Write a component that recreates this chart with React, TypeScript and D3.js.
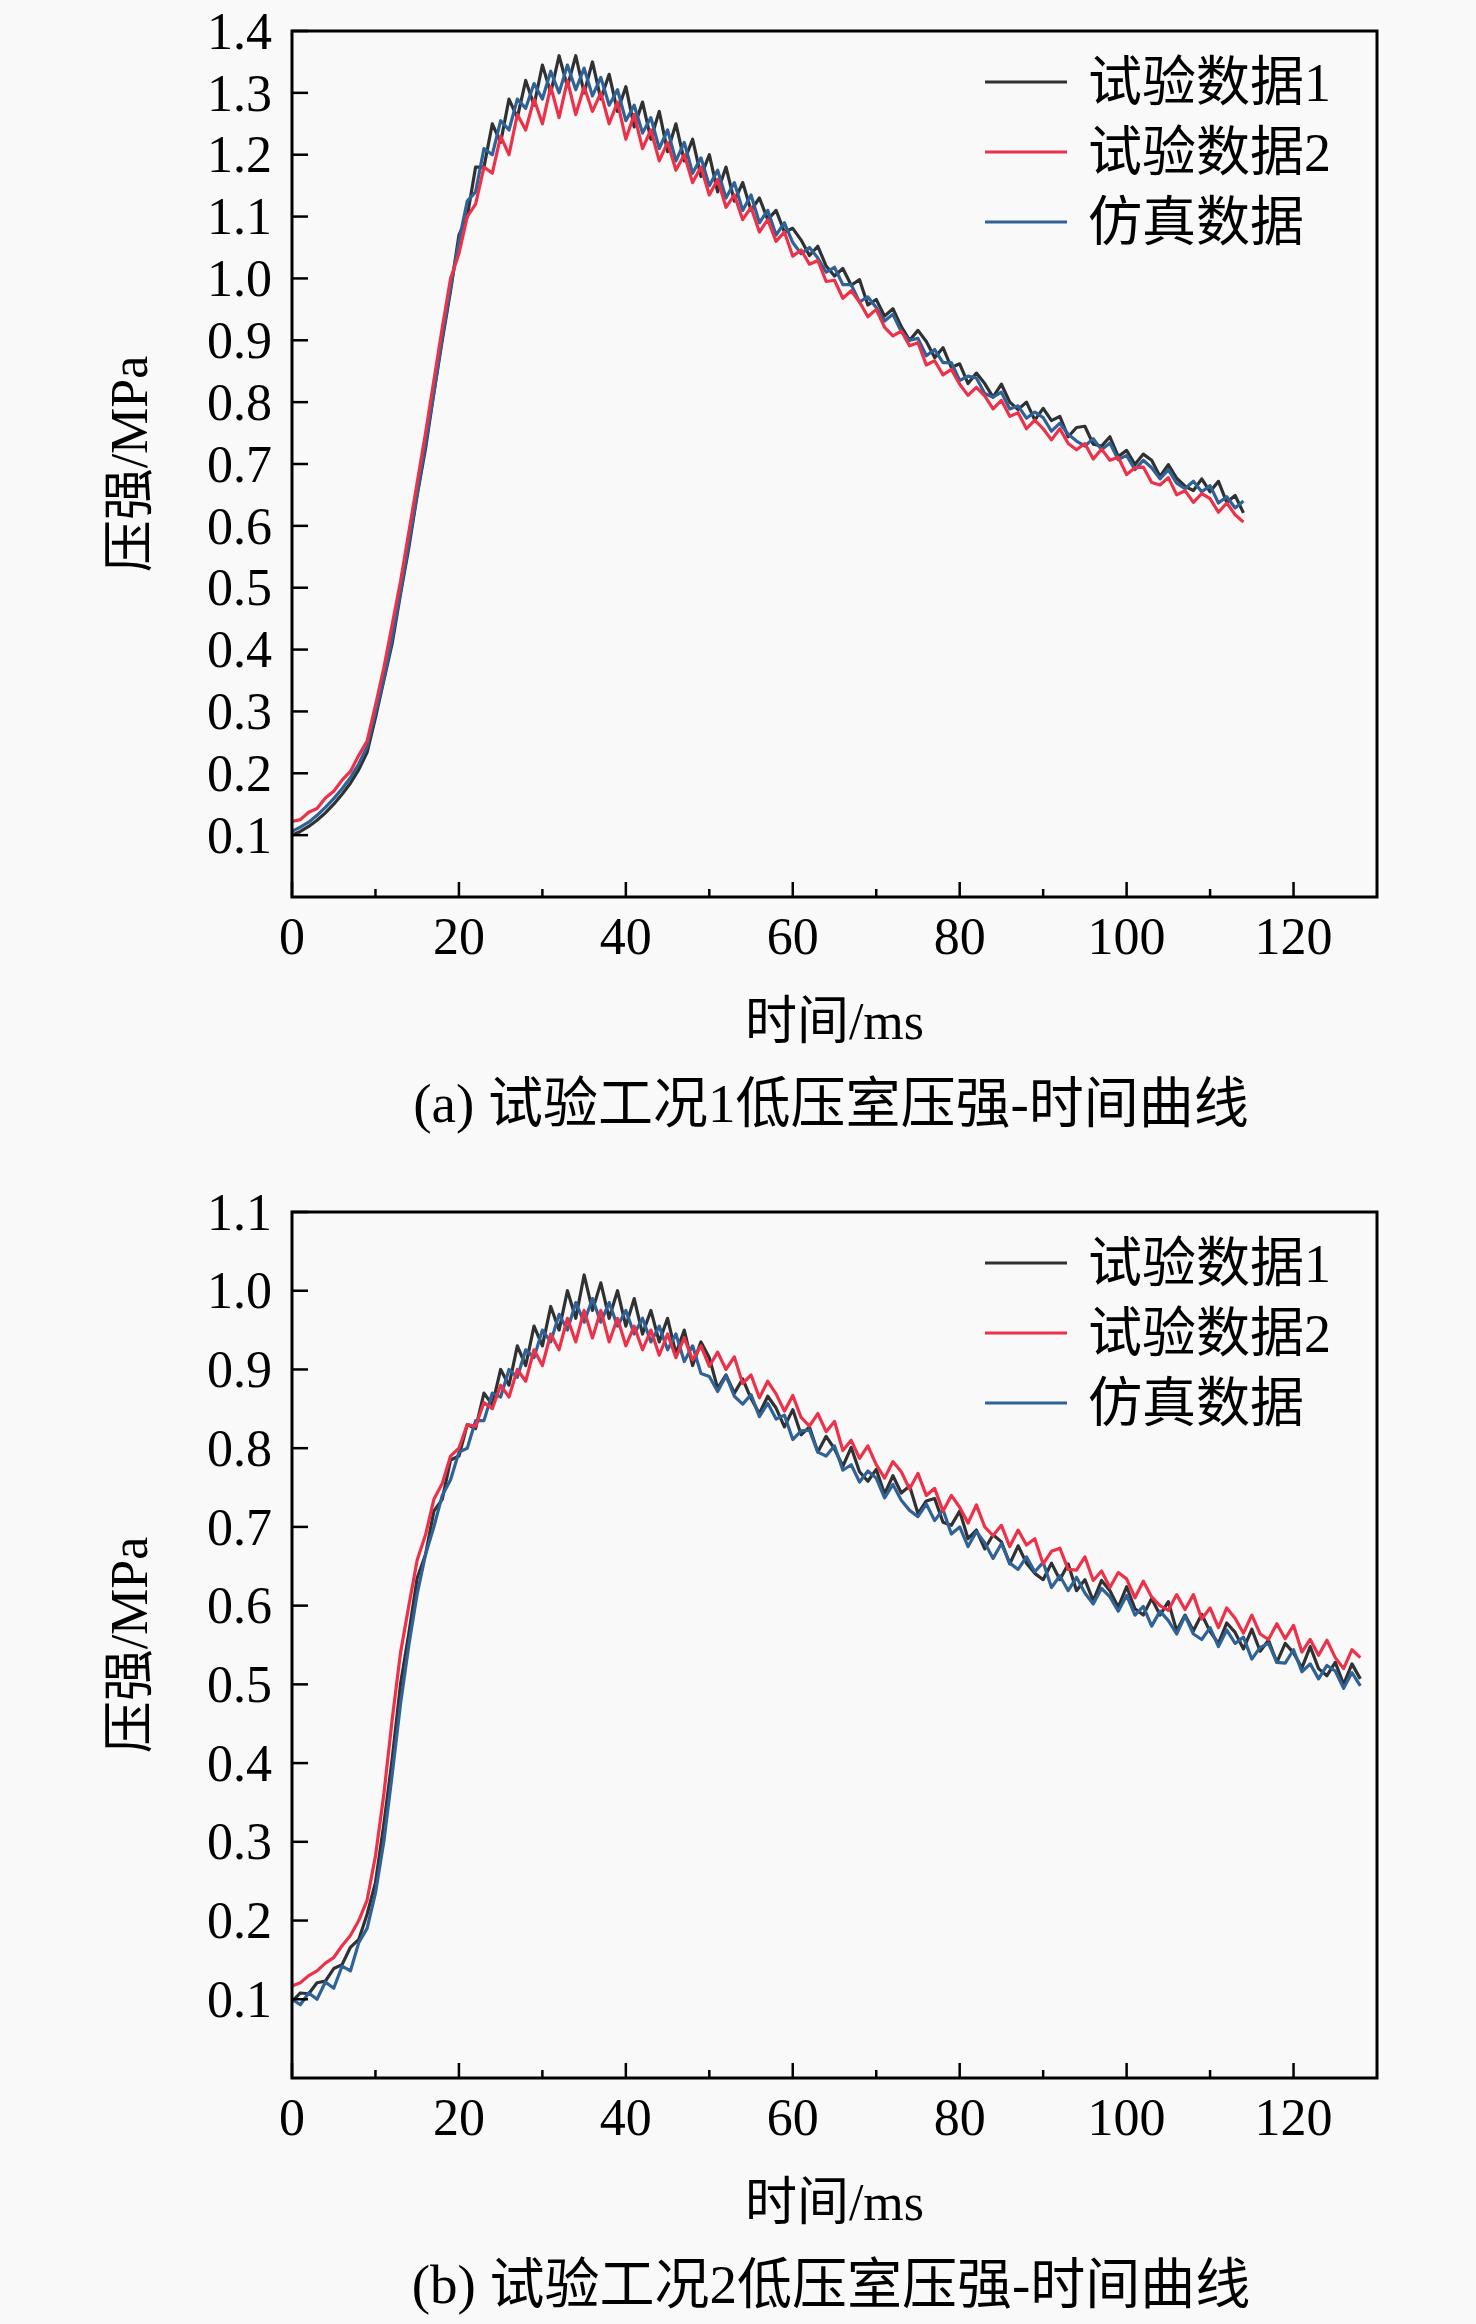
import React from 'react';
import * as d3 from 'd3';

// legend / series
const seriesNames = ['试验数据1', '试验数据2', '仿真数据'];
const seriesColors = ['#2f3133', '#ec3149', '#2f6296'];

// ticks
const xTicks = [0, 20, 40, 60, 80, 100, 120];
const xMinorTicks = [10, 30, 50, 70, 90, 110];
const yTicksA = [0.1, 0.2, 0.3, 0.4, 0.5, 0.6, 0.7, 0.8, 0.9, 1.0, 1.1, 1.2, 1.3, 1.4];
const yTicksB = [0.1, 0.2, 0.3, 0.4, 0.5, 0.6, 0.7, 0.8, 0.9, 1.0, 1.1];

// (a) 试验工况1, sampled every 1 ms
const timeA = d3.range(0, 115);
const test1A = [
  0.100, 0.106, 0.114, 0.124, 0.136, 0.150, 0.166, 0.184, 0.206, 0.234,
  0.29, 0.35, 0.41, 0.49, 0.565, 0.65, 0.725, 0.815, 0.90, 0.98,
  1.07, 1.10, 1.18, 1.18, 1.25, 1.22, 1.29, 1.26, 1.32, 1.28,
  1.345, 1.30, 1.36, 1.31, 1.36, 1.30, 1.35, 1.29, 1.33, 1.27,
  1.31, 1.245, 1.285, 1.225, 1.27, 1.205, 1.25, 1.19, 1.225, 1.165,
  1.20, 1.14, 1.18, 1.125, 1.155, 1.11, 1.13, 1.095, 1.11, 1.075,
  1.081, 1.062, 1.037, 1.052, 1.02, 1.004, 1.016, 0.989, 0.998, 0.957,
  0.966, 0.939, 0.951, 0.922, 0.90, 0.916, 0.898, 0.872, 0.888, 0.856,
  0.862, 0.83, 0.847, 0.83, 0.808, 0.829, 0.80, 0.788, 0.80, 0.771,
  0.79, 0.77, 0.777, 0.744, 0.759, 0.761, 0.732, 0.729, 0.744, 0.712,
  0.722, 0.699, 0.716, 0.706, 0.68, 0.699, 0.677, 0.664, 0.657, 0.676,
  0.655, 0.672, 0.638, 0.649, 0.621,
];
const test2A = [
  0.122, 0.125, 0.137, 0.143, 0.160, 0.171, 0.189, 0.203, 0.229, 0.252,
  0.31, 0.37, 0.44, 0.51, 0.59, 0.67, 0.75, 0.835, 0.92, 1.0,
  1.04, 1.10, 1.12, 1.18, 1.17, 1.23, 1.20, 1.265, 1.24, 1.29,
  1.25, 1.31, 1.26, 1.32, 1.265, 1.31, 1.27, 1.30, 1.25, 1.285,
  1.225, 1.265, 1.21, 1.24, 1.19, 1.22, 1.175, 1.20, 1.155, 1.18,
  1.135, 1.16, 1.115, 1.135, 1.095, 1.115, 1.075, 1.095, 1.06, 1.075,
  1.036, 1.046, 1.023, 1.029, 0.995, 0.997, 0.968, 0.98, 0.962, 0.938,
  0.95, 0.921, 0.907, 0.915, 0.891, 0.896, 0.86, 0.867, 0.844, 0.853,
  0.829, 0.811, 0.824, 0.81, 0.789, 0.803, 0.777, 0.783, 0.757, 0.771,
  0.757, 0.739, 0.757, 0.733, 0.723, 0.733, 0.708, 0.724, 0.706, 0.711,
  0.683, 0.694, 0.695, 0.67, 0.666, 0.678, 0.65, 0.657, 0.638, 0.652,
  0.644, 0.622, 0.637, 0.618, 0.606,
];
const simA = [
  0.106, 0.113, 0.121, 0.132, 0.145, 0.159, 0.175, 0.193, 0.215, 0.243,
  0.298, 0.352, 0.418, 0.493, 0.572, 0.652, 0.733, 0.815, 0.905, 0.985,
  1.06, 1.125, 1.14, 1.21, 1.20, 1.255, 1.24, 1.29, 1.275, 1.315,
  1.29, 1.335, 1.30, 1.345, 1.305, 1.34, 1.295, 1.325, 1.28, 1.305,
  1.255, 1.28, 1.235, 1.26, 1.21, 1.24, 1.19, 1.22, 1.17, 1.195,
  1.15, 1.175, 1.13, 1.155, 1.11, 1.135, 1.09, 1.11, 1.07, 1.09,
  1.058, 1.04, 1.05, 1.033, 1.01, 1.018, 0.99, 0.99, 0.962, 0.97,
  0.953, 0.931, 0.942, 0.914, 0.90, 0.903, 0.875, 0.885, 0.864, 0.864,
  0.835, 0.842, 0.839, 0.814, 0.808, 0.816, 0.789, 0.794, 0.774, 0.784,
  0.775, 0.753, 0.766, 0.748, 0.737, 0.729, 0.741, 0.723, 0.734, 0.707,
  0.714, 0.691, 0.706, 0.694, 0.676, 0.691, 0.669, 0.66, 0.672, 0.655,
  0.665, 0.637, 0.647, 0.629, 0.64,
];

// (b) 试验工况2, sampled every 1 ms
const timeB = d3.range(0, 129);
const test1B = [
  0.097, 0.108, 0.107, 0.121, 0.123, 0.139, 0.144, 0.166, 0.176, 0.208,
  0.248, 0.322, 0.405, 0.5, 0.565, 0.635, 0.665, 0.72, 0.735, 0.785,
  0.79, 0.83, 0.825, 0.87, 0.855, 0.90, 0.88, 0.93, 0.905, 0.955,
  0.93, 0.98, 0.95, 1.0, 0.965, 1.02, 0.975, 1.01, 0.965, 1.0,
  0.955, 0.99, 0.945, 0.975, 0.935, 0.965, 0.92, 0.95, 0.905, 0.935,
  0.915, 0.876, 0.893, 0.87, 0.888, 0.863, 0.844, 0.866, 0.851, 0.827,
  0.849, 0.817, 0.827, 0.795, 0.815, 0.799, 0.777, 0.801, 0.77, 0.758,
  0.773, 0.742, 0.765, 0.743, 0.752, 0.717, 0.733, 0.736, 0.706, 0.702,
  0.72, 0.685, 0.696, 0.672, 0.69, 0.681, 0.653, 0.676, 0.654, 0.641,
  0.633, 0.654, 0.633, 0.653, 0.619, 0.633, 0.606, 0.632, 0.619, 0.598,
  0.624, 0.596, 0.588, 0.609, 0.588, 0.605, 0.568, 0.588, 0.568, 0.589,
  0.567, 0.552, 0.578, 0.566, 0.545, 0.57, 0.542, 0.556, 0.528, 0.552,
  0.54, 0.521, 0.548, 0.52, 0.511, 0.528, 0.50, 0.526, 0.507,
];
const test2B = [
  0.117, 0.121, 0.13, 0.136, 0.146, 0.153, 0.168, 0.181, 0.20, 0.226,
  0.282, 0.36, 0.455, 0.54, 0.60, 0.658, 0.69, 0.735, 0.755, 0.79,
  0.80, 0.83, 0.828, 0.858, 0.85, 0.88, 0.865, 0.90, 0.885, 0.925,
  0.905, 0.945, 0.925, 0.965, 0.935, 0.975, 0.94, 0.975, 0.935, 0.965,
  0.93, 0.955, 0.925, 0.95, 0.918, 0.945, 0.915, 0.94, 0.912, 0.93,
  0.904, 0.922, 0.90, 0.916, 0.882, 0.893, 0.864, 0.885, 0.869, 0.847,
  0.867, 0.839, 0.828, 0.844, 0.821, 0.834, 0.797, 0.81, 0.787, 0.803,
  0.779, 0.762, 0.783, 0.77, 0.748, 0.768, 0.74, 0.749, 0.72, 0.74,
  0.725, 0.705, 0.728, 0.70, 0.689, 0.702, 0.675, 0.696, 0.677, 0.685,
  0.653, 0.669, 0.673, 0.646, 0.645, 0.662, 0.632, 0.644, 0.623, 0.642,
  0.634, 0.61, 0.631, 0.611, 0.60, 0.594, 0.614, 0.595, 0.614, 0.583,
  0.597, 0.572, 0.597, 0.584, 0.565, 0.588, 0.564, 0.557, 0.577, 0.558,
  0.575, 0.541, 0.557, 0.537, 0.556, 0.534, 0.52, 0.544, 0.534,
];
const simB = [
  0.10, 0.093, 0.108, 0.10, 0.122, 0.114, 0.142, 0.136, 0.172, 0.19,
  0.235, 0.30, 0.385, 0.475, 0.55, 0.615, 0.665, 0.70, 0.74, 0.76,
  0.795, 0.80, 0.835, 0.835, 0.87, 0.865, 0.90, 0.89, 0.925, 0.915,
  0.95, 0.935, 0.97, 0.95, 0.985, 0.96, 0.99, 0.96, 0.985, 0.955,
  0.975, 0.945, 0.965, 0.935, 0.955, 0.925, 0.945, 0.91, 0.93, 0.895,
  0.891, 0.872, 0.892, 0.866, 0.856, 0.868, 0.84, 0.857, 0.837, 0.842,
  0.811, 0.822, 0.823, 0.795, 0.79, 0.803, 0.772, 0.779, 0.757, 0.771,
  0.762, 0.737, 0.754, 0.734, 0.721, 0.713, 0.729, 0.708, 0.722, 0.691,
  0.70, 0.675, 0.694, 0.68, 0.66, 0.679, 0.654, 0.646, 0.662, 0.643,
  0.655, 0.623, 0.638, 0.619, 0.636, 0.616, 0.602, 0.622, 0.611, 0.593,
  0.613, 0.588, 0.599, 0.574, 0.593, 0.581, 0.564, 0.587, 0.564, 0.557,
  0.572, 0.548, 0.569, 0.552, 0.56, 0.532, 0.547, 0.552, 0.528, 0.527,
  0.544, 0.516, 0.526, 0.507, 0.524, 0.517, 0.495, 0.515, 0.498,
];

const FONT = "'Liberation Serif', 'Times New Roman', 'Noto Sans CJK SC', serif";

interface PanelProps {
  top: number;
  yMax: number;
  yTicks: number[];
  time: number[];
  series: number[][];
  caption: string;
}

const Panel: React.FC<PanelProps> = ({ top, yMax, yTicks, time, series, caption }) => {
  const left = 292;
  const right = 1377;
  const height = 866;
  const bottom = top + height;

  const x = d3.scaleLinear().domain([0, 130]).range([left, right]);
  const y = d3.scaleLinear().domain([0, yMax]).range([bottom, top]);
  const line = d3.line<number>()
    .x((_, i) => x(time[i]))
    .y(d => y(d));
  const fmt = d3.format('.1f');

  // draw order: black, blue, red on top
  const order = [0, 2, 1];

  return (
    <g fontFamily={FONT} fill="#000">
      {order.map(k => (
        <path key={k} d={line(series[k]) || ''} fill="none"
          stroke={seriesColors[k]} strokeWidth={3.2} strokeLinejoin="round" />
      ))}

      <rect x={left} y={top} width={right - left} height={height}
        fill="none" stroke="#000" strokeWidth={3} />

      {/* x ticks */}
      {xTicks.map(t => (
        <g key={t}>
          <line x1={x(t)} x2={x(t)} y1={bottom} y2={bottom - 15} stroke="#000" strokeWidth={2.5} />
          <text x={x(t)} y={bottom + 57} fontSize={52} textAnchor="middle">{t}</text>
        </g>
      ))}
      {xMinorTicks.map(t => (
        <line key={t} x1={x(t)} x2={x(t)} y1={bottom} y2={bottom - 8} stroke="#000" strokeWidth={2.5} />
      ))}

      {/* y ticks */}
      {yTicks.map(v => (
        <g key={v}>
          <line x1={left} x2={left + 16} y1={y(v)} y2={y(v)} stroke="#000" strokeWidth={2.5} />
          <text x={left - 20} y={y(v)} dy="0.34em" fontSize={52} textAnchor="end">{fmt(v)}</text>
        </g>
      ))}

      {/* axis titles */}
      <text transform={`translate(128, ${top + height / 2}) rotate(-90)`} fontSize={52}
        textAnchor="middle" dy="0.36em">压强/MPa</text>
      <text x={(left + right) / 2} y={bottom + 142} fontSize={52} textAnchor="middle">时间/ms</text>
      <text x={831} y={bottom + 225} fontSize={55} textAnchor="middle">{caption}</text>

      {/* legend */}
      {seriesNames.map((name, i) => (
        <g key={name}>
          <line x1={985} x2={1067} y1={top + 51 + i * 70} y2={top + 51 + i * 70}
            stroke={seriesColors[i]} strokeWidth={3} />
          <text x={1088} y={top + 51 + i * 70} dy="0.36em" fontSize={54}>{name}</text>
        </g>
      ))}
    </g>
  );
};

export default function App() {
  return (
    <svg width={1476} height={2324} viewBox="0 0 1476 2324"
      style={{ position: 'absolute', left: 0, top: 0, display: 'block' }}>
      <rect x={0} y={0} width={1476} height={2324} fill="#f9f9f9" />
      <Panel top={31} yMax={1.4} yTicks={yTicksA} time={timeA}
        series={[test1A, test2A, simA]} caption="(a) 试验工况1低压室压强-时间曲线" />
      <Panel top={1212} yMax={1.1} yTicks={yTicksB} time={timeB}
        series={[test1B, test2B, simB]} caption="(b) 试验工况2低压室压强-时间曲线" />
    </svg>
  );
}
